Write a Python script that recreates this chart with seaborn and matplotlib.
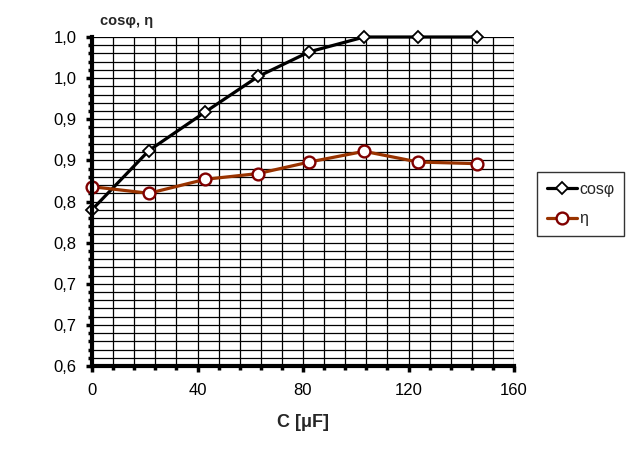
import matplotlib
matplotlib.use("Agg")
import matplotlib.pyplot as plt
import seaborn as sns
import pandas as pd
from matplotlib.ticker import MultipleLocator, FixedLocator, FixedFormatter

# ---- data ----
capacitance = [0, 21.6, 43, 63, 82.4, 103.2, 123.7, 146]
cos_phi = [0.790, 0.862, 0.909, 0.952, 0.982, 1.000, 1.000, 1.000]
eta = [0.818, 0.810, 0.827, 0.834, 0.848, 0.861, 0.848, 0.846]
y_ticks = [0.60, 0.65, 0.70, 0.75, 0.80, 0.85, 0.90, 0.95, 1.00]
y_tick_labels = ["0,6", "0,7", "0,7", "0,8", "0,8", "0,9", "0,9", "1,0", "1,0"]
x_ticks = [0, 40, 80, 120, 160]
series_names = ["cosφ", "η"]

sns.set_theme(style="white")
plt.rcParams["font.family"] = ["Liberation Sans", "DejaVu Sans"]

fig = plt.figure(figsize=(6.30, 4.61), dpi=100)
ax = fig.add_axes([92 / 630, 1 - 366 / 461, (514 - 92) / 630, (366 - 37) / 461])

df = pd.DataFrame({"C": capacitance, "cos": cos_phi, "eta": eta})

sns.lineplot(data=df, x="C", y="cos", ax=ax, color="black", linewidth=2.3,
             marker="D", markersize=6.5, markerfacecolor="white",
             markeredgecolor="black", markeredgewidth=1.3,
             label=series_names[0], zorder=5, clip_on=False)
sns.lineplot(data=df, x="C", y="eta", ax=ax, color="#993300", linewidth=2.3,
             marker="o", markersize=8.5, markerfacecolor="white",
             markeredgecolor="#800000", markeredgewidth=1.7,
             label=series_names[1], zorder=5, clip_on=False)

ax.set_xlim(0, 160)
ax.set_ylim(0.6, 1.0)

ax.xaxis.set_major_locator(FixedLocator(x_ticks))
ax.xaxis.set_minor_locator(MultipleLocator(8))
ax.yaxis.set_major_locator(FixedLocator(y_ticks))
ax.yaxis.set_major_formatter(FixedFormatter(y_tick_labels))
ax.yaxis.set_minor_locator(MultipleLocator(0.01))

ax.grid(which="both", color="black", linewidth=0.9)
ax.set_axisbelow(True)

for s in ["top", "right"]:
    ax.spines[s].set_visible(False)
for s in ["left", "bottom"]:
    ax.spines[s].set_color("black")
    ax.spines[s].set_linewidth(3)
    ax.spines[s].set_zorder(6)

ax.tick_params(axis="both", which="major", direction="out", length=4, width=2.5,
               color="black", labelsize=12, labelcolor="black",
               left=True, bottom=True)
ax.tick_params(axis="both", which="minor", direction="out", length=3, width=2.5,
               color="black", left=True, bottom=True)
ax.tick_params(axis="y", which="major", pad=7)
ax.tick_params(axis="x", which="major", pad=8)

ax.set_xlabel("C [μF]", fontsize=13, fontweight="bold", labelpad=12)
ax.set_ylabel("")
fig.text(100 / 630, 1 - 21 / 461, "cosφ, η", fontsize=10.5, fontweight="bold",
         ha="left", va="center")

leg = ax.legend(loc="center left", bbox_to_anchor=(537 / 630, 1 - 204 / 461),
                bbox_transform=fig.transFigure, frameon=True, fancybox=False,
                edgecolor="black", fontsize=11.5, handlelength=1.9,
                handletextpad=0.15, borderpad=0.6, labelspacing=0.9,
                borderaxespad=0)
leg.get_frame().set_linewidth(1.0)

fig.savefig("out.png", dpi=100, facecolor="white")
